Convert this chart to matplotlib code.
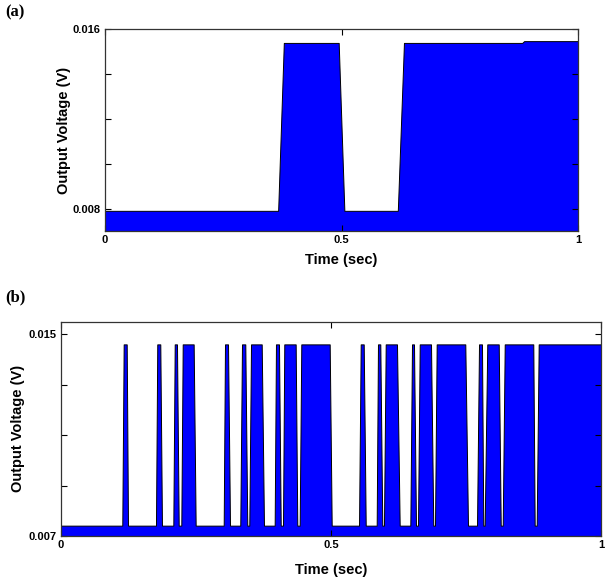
import matplotlib
matplotlib.use("Agg")
import matplotlib.pyplot as plt

plt.rcParams['font.family'] = ['Liberation Sans', 'DejaVu Sans']
plt.rcParams['font.weight'] = 'bold'

# (a) output voltage vs time
t_a = [0, 0.366, 0.378, 0.494, 0.506, 0.619, 0.632, 0.882, 0.886, 1.0]
v_a = [0.0079, 0.0079, 0.0154, 0.0154, 0.0079, 0.0079, 0.0154, 0.0154, 0.01548, 0.01548]

# (b) pulse edges (time in sec)
low_b = 0.00741
high_b = 0.0146
rise_start = [0.1135, 0.1759, 0.2080, 0.2228, 0.3013, 0.3320, 0.3487, 0.3957, 0.4111, 0.4420,
              0.5519, 0.5846, 0.5981, 0.6469, 0.6611, 0.6926, 0.7704, 0.7846, 0.8180, 0.8809]
rise_end = [0.1161, 0.1783, 0.2106, 0.2254, 0.3037, 0.3352, 0.3519, 0.3981, 0.4135, 0.4450,
            0.5550, 0.5870, 0.6013, 0.6500, 0.6643, 0.6957, 0.7741, 0.7894, 0.8217, 0.8846]
fall_start = [0.1217, 0.1839, 0.2148, 0.2457, 0.3093, 0.3413, 0.3717, 0.4037, 0.4346, 0.4976,
              0.5606, 0.5913, 0.6222, 0.6537, 0.6852, 0.7487, 0.7796, 0.8106, 0.8746, 1.0]
fall_end = [0.1241, 0.1870, 0.2180, 0.2494, 0.3130, 0.3450, 0.3759, 0.4069, 0.4376, 0.5013,
            0.5643, 0.5950, 0.6272, 0.6574, 0.6894, 0.7537, 0.7820, 0.8143, 0.8772]

t_b = [0.0]
v_b = [low_b]
for i in range(len(rise_start)):
    t_b += [rise_start[i], rise_end[i], fall_start[i]]
    v_b += [low_b, high_b, high_b]
    if i < len(fall_end):
        t_b.append(fall_end[i])
        v_b.append(low_b)

fig = plt.figure(figsize=(6.05, 5.77), dpi=100)


def style_axes(ax, ylim, yticks, ylabels, xpad, ypad):
    ax.set_xlim(0, 1)
    ax.set_ylim(*ylim)
    ax.set_xticks([0, 0.5, 1])
    ax.set_xticklabels(['0', '0.5', '1'])
    ax.set_yticks(yticks)
    ax.set_yticklabels(ylabels)
    ax.tick_params(direction='in', length=4, width=0.8, top=True, right=True,
                   labelsize=8, pad=3, colors='black')
    for s in ax.spines.values():
        s.set_linewidth(0.9)
        s.set_color('#333333')
    ax.set_xlabel('Time (sec)', fontsize=10.5, fontweight='bold', labelpad=xpad)
    ax.set_ylabel('Output Voltage (V)', fontsize=10.5, fontweight='bold', labelpad=ypad)


ax1 = fig.add_axes([0.1736, 0.5997, 0.7818, 0.3492])
ax1.fill_between(t_a, v_a, 0.007, facecolor='#0000ff', edgecolor='black', linewidth=0.7)
style_axes(ax1, (0.007, 0.016), [0.008, 0.010, 0.012, 0.014, 0.016],
           ['0.008', '', '', '', '0.016'], 6, 1)

ax2 = fig.add_axes([0.1008, 0.0711, 0.8926, 0.3714])
ax2.fill_between(t_b, v_b, 0.007, facecolor='#0000ff', edgecolor='black', linewidth=0.7)
style_axes(ax2, (0.007, 0.0155), [0.007, 0.009, 0.011, 0.013, 0.015],
           ['0.007', '', '', '', '0.015'], 9, 3)

fig.text(0.008, 0.979, '(a)', fontsize=12, fontweight='bold',
         family=['Liberation Serif', 'DejaVu Serif'], va='center')
fig.text(0.008, 0.485, '(b)', fontsize=12, fontweight='bold',
         family=['Liberation Serif', 'DejaVu Serif'], va='center')

fig.savefig('out.png', dpi=100)
